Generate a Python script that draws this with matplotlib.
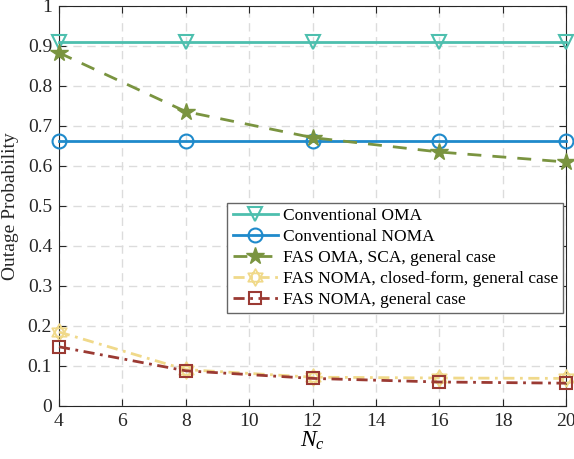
import numpy as np
import matplotlib
matplotlib.use('Agg')
import matplotlib.pyplot as plt
from matplotlib.path import Path

plt.rcParams['font.family'] = ['Liberation Serif', 'DejaVu Serif']
plt.rcParams['mathtext.fontset'] = 'custom'
plt.rcParams['mathtext.rm'] = 'Liberation Serif'
plt.rcParams['mathtext.it'] = 'Liberation Serif:italic'

# data
nc = [4, 8, 12, 16, 20]
conv_oma = [0.91, 0.91, 0.91, 0.91, 0.91]
conv_noma = [0.662, 0.662, 0.662, 0.662, 0.662]
fas_oma_sca = [0.883, 0.736, 0.671, 0.635, 0.610]
fas_noma_cf = [0.185, 0.091, 0.072, 0.070, 0.069]
fas_noma_gen = [0.148, 0.088, 0.069, 0.060, 0.057]

labels = ['Conventional OMA', 'Conventional NOMA', 'FAS OMA, SCA, general case',
          'FAS NOMA, closed-form, general case', 'FAS NOMA, general case']

# hexagram marker (two overlapping triangles)
a = np.deg2rad([90, 210, 330, 90])
b = np.deg2rad([270, 30, 150, 270])
verts = list(zip(np.cos(a), np.sin(a))) + list(zip(np.cos(b), np.sin(b)))
codes = [Path.MOVETO, Path.LINETO, Path.LINETO, Path.CLOSEPOLY] * 2
hexagram = Path(verts, codes)

fig = plt.figure(figsize=(5.74, 4.59), dpi=100)
ax = fig.add_axes([59/574, 53/459, 507/574, 400/459])

ax.plot(nc, conv_oma, color='#4dbfae', lw=2, marker='v', ms=10, mfc='none', mew=1.5, label=labels[0], clip_on=False, zorder=5)
ax.plot(nc, conv_noma, color='#1f8acb', lw=2, marker='o', ms=10, mfc='none', mew=1.5, label=labels[1], clip_on=False, zorder=5)
ax.plot(nc, fas_oma_sca, color='#7a9440', lw=2, ls=(0, (5, 4)), marker='*', ms=13, mfc='#7a9440', mew=1, label=labels[2], clip_on=False, zorder=5)
ax.plot(nc, fas_noma_cf, color='#f0d98a', lw=2, ls=(0, (4, 2, 1, 2)), marker=hexagram, ms=12, mfc='none', mew=1.3, label=labels[3], clip_on=False, zorder=5)
ax.plot(nc, fas_noma_gen, color='#9b3a33', lw=2, ls=(0, (4, 2, 1, 2)), marker='s', ms=8, mfc='none', mew=1.5, label=labels[4], clip_on=False, zorder=5)

ax.set_xlim(4, 20)
ax.set_ylim(0, 1)
ax.set_xticks(np.arange(4, 21, 2))
ax.set_yticks(np.arange(0, 1.01, 0.1))
ax.set_yticklabels(['0', '0.1', '0.2', '0.3', '0.4', '0.5', '0.6', '0.7', '0.8', '0.9', '1'])
ax.tick_params(direction='in', labelsize=14, top=True, right=True, length=5, color='#262626', labelcolor='#262626', pad=5)
ax.grid(True, ls=(0, (6, 4)), color='#dcdcdc', lw=1)
for s in ax.spines.values():
    s.set_color('#262626')
ax.set_xlabel('$N_c$', fontsize=17, labelpad=0)
ax.set_ylabel('Outage Probability', fontsize=14, color='#262626', labelpad=6)

leg = ax.legend(loc='center right', bbox_to_anchor=(1.0, 0.37), fontsize=12.5, handlelength=2.6,
                fancybox=False, framealpha=1, edgecolor='#666666', borderpad=0.3,
                labelspacing=0.27, handletextpad=0.3, borderaxespad=0.15)
leg.get_frame().set_linewidth(1)

fig.savefig('out.png', dpi=100)
